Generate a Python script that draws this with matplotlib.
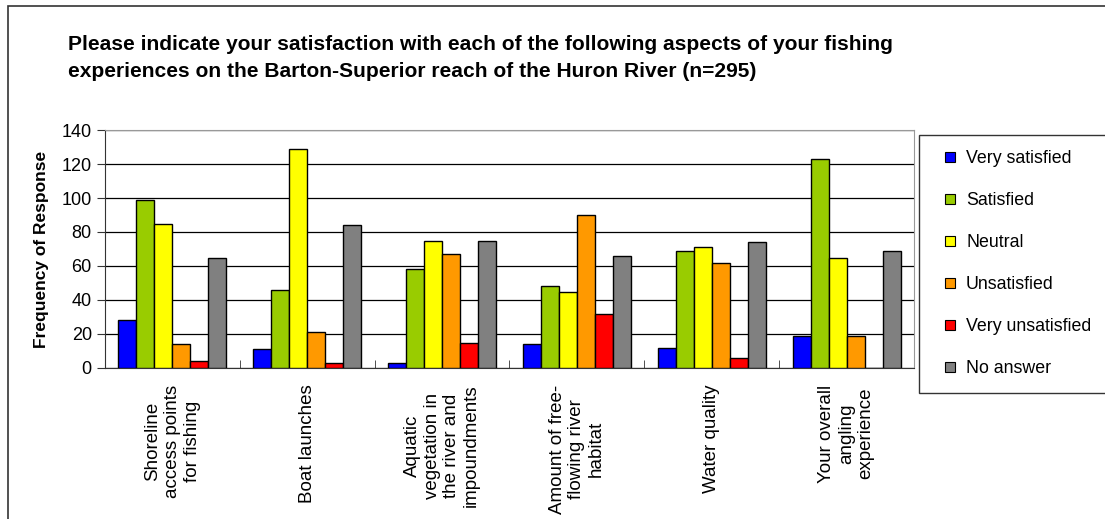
import matplotlib.pyplot as plt
import matplotlib.patches as mpatches
from matplotlib.lines import Line2D
import numpy as np

plt.rcParams["font.family"] = ["Liberation Sans", "DejaVu Sans"]

# data
categories = [
    "Shoreline\naccess points\nfor fishing",
    "Boat launches",
    "Aquatic\nvegetation in\nthe river and\nimpoundments",
    "Amount of free-\nflowing river\nhabitat",
    "Water quality",
    "Your overall\nangling\nexperience",
]
responses = ["Very satisfied", "Satisfied", "Neutral", "Unsatisfied",
             "Very unsatisfied", "No answer"]
very_satisfied = [28, 11, 3, 14, 12, 19]
satisfied = [99, 46, 58, 48, 69, 123]
neutral = [85, 129, 75, 45, 71, 65]
unsatisfied = [14, 21, 67, 90, 62, 19]
very_unsatisfied = [4, 3, 15, 32, 6, 0]
no_answer = [65, 84, 75, 66, 74, 69]
colors = ["#0000FF", "#99CC00", "#FFFF00", "#FF9900", "#FF0000", "#808080"]

series = [very_satisfied, satisfied, neutral, unsatisfied, very_unsatisfied, no_answer]

W, H = 1105, 519
fig = plt.figure(figsize=(W / 100, H / 100), dpi=100)

# outer chart frame
fig.patches.append(mpatches.Rectangle((8 / W, -0.1), 2, (519 - 6) / H + 0.1,
                                      transform=fig.transFigure, fill=False,
                                      edgecolor="#333333", lw=1.2))

ax = fig.add_axes([105 / W, 1 - 368 / H, (914 - 105) / W, (368 - 130) / H])

x = np.arange(len(categories))
bw = 0.8 / len(series)
for i, vals in enumerate(series):
    ax.bar(x + (i - 2.5) * bw, vals, bw, color=colors[i], edgecolor="black",
           lw=1, zorder=3)

ax.set_xlim(-0.5, len(categories) - 0.5)
ax.set_ylim(0, 140)
ax.set_yticks(range(0, 141, 20))
ax.yaxis.grid(True, color="black", lw=0.9, zorder=0)
ax.tick_params(axis="y", labelsize=13, length=6, direction="out", color="#333333")

ax.set_xticks(x)
ax.set_xticklabels(categories, rotation=90, fontsize=13.5, multialignment="center",
                   linespacing=1.2)
ax.tick_params(axis="x", length=0, pad=12)
ax.set_xticks(np.arange(-0.5, len(categories), 1), minor=True)
ax.tick_params(axis="x", which="minor", direction="in", length=6, color="#333333")

ax.set_ylabel("Frequency of Response", fontsize=12.5, fontweight="bold", labelpad=9)

for s in ["top", "right"]:
    ax.spines[s].set_color("#999999")
for s in ["left", "bottom"]:
    ax.spines[s].set_color("#333333")

fig.text(68 / W, 1 - 45 / H,
         "Please indicate your satisfaction with each of the following aspects of your fishing",
         fontsize=15.1, fontweight="bold", va="center")
fig.text(68 / W, 1 - 72 / H,
         "experiences on the Barton-Superior reach of the Huron River (n=295)",
         fontsize=15.1, fontweight="bold", va="center")

handles = [Line2D([], [], ls="none", marker="s", markersize=7.5, markerfacecolor=c,
                  markeredgecolor="black", markeredgewidth=0.8) for c in colors]
leg = fig.legend(handles, responses, loc="upper left",
                 bbox_to_anchor=(919 / W, 1 - 391 / H, (1110 - 919) / W, (391 - 135) / H),
                 mode="expand", borderaxespad=0, fontsize=12.8, frameon=True,
                 fancybox=False, edgecolor="black", handlelength=1.75,
                 handletextpad=0.05, labelspacing=1.41, borderpad=0.85)
leg.get_frame().set_linewidth(1)

fig.savefig("out.png", dpi=100)
